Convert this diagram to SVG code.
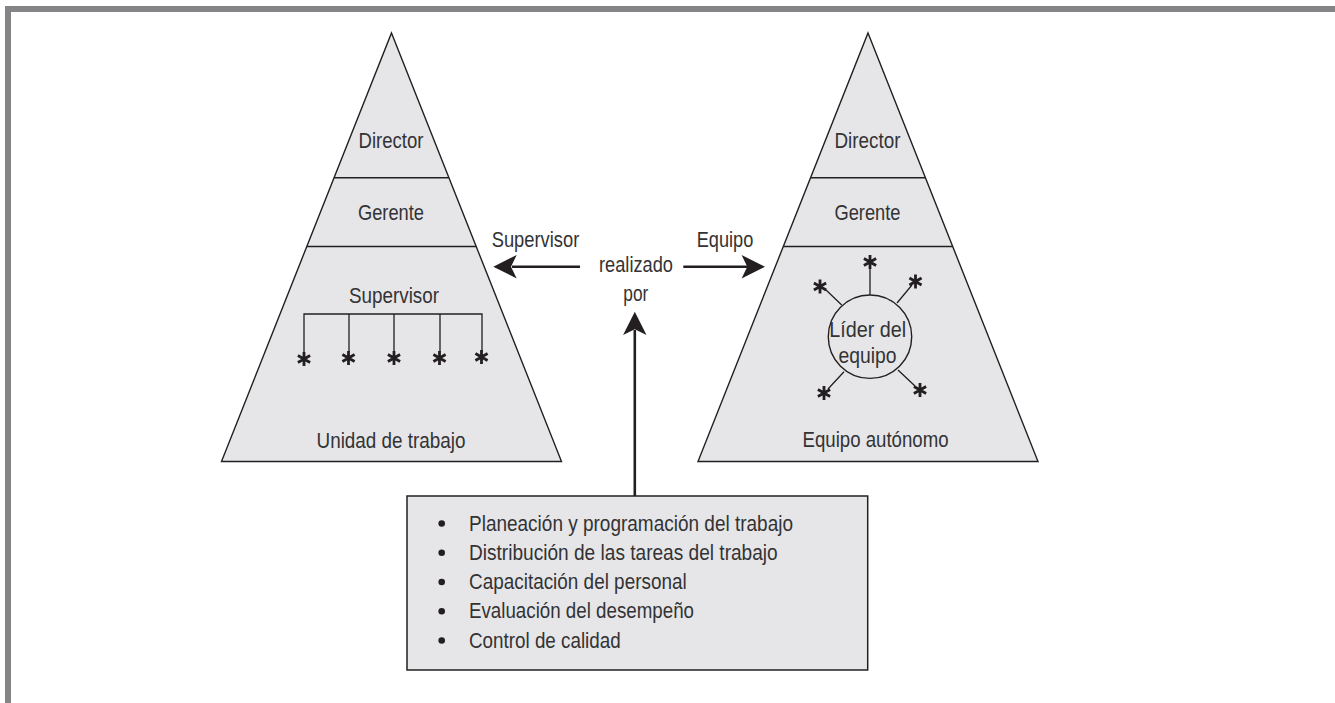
<svg xmlns="http://www.w3.org/2000/svg" xmlns:xlink="http://www.w3.org/1999/xlink" width="1335" height="703" viewBox="0 0 1335 703">
  <style>
    .shape { fill: #e6e6e8; stroke: #231f20; stroke-width: 1.4; }
    .div { fill: none; stroke: #231f20; stroke-width: 1.4; }
    .thin { fill: none; stroke: #231f20; stroke-width: 1.3; }
    .lbl { font-family: "Liberation Sans", Arial, sans-serif; font-size: 21.5px; fill: #333335; }
    .mid { text-anchor: middle; }
    .arrow { fill: none; stroke: #231f20; stroke-width: 2.6; }
    .head { fill: #231f20; stroke: none; }
    .ast { fill: none; stroke: #231f20; stroke-width: 2.8; }
  </style>
  <defs>
    <g id="ast" class="ast">
      <path d="M0,-7 V7 M-6.1,-3.5 L6.1,3.5 M-6.1,3.5 L6.1,-3.5"/>
    </g>
  </defs>
  <rect width="1335" height="703" fill="#ffffff"/>

  <g id="frame">
    <path d="M8,703 V9 H1335" fill="none" stroke="#858587" stroke-width="6"/>
  </g>

  <g id="left-pyramid">
    <polygon class="shape" points="391.5,33 561.5,461.5 221.5,461.5"/>
    <line class="div" x1="334.1" y1="177.7" x2="448.9" y2="177.7"/>
    <line class="div" x1="306.8" y1="246.5" x2="476.2" y2="246.5"/>
    <text class="lbl mid" x="391" y="147.5" textLength="65" lengthAdjust="spacingAndGlyphs">Director</text>
    <text class="lbl mid" x="391" y="220" textLength="66" lengthAdjust="spacingAndGlyphs">Gerente</text>
    <text class="lbl mid" x="394" y="303" textLength="90" lengthAdjust="spacingAndGlyphs">Supervisor</text>
    <path class="thin" d="M304,352 V314 H482 V352 M349,314 V352 M394,314 V352 M440,314 V352"/>
    <use xlink:href="#ast" x="304" y="359"/>
    <use xlink:href="#ast" x="348.5" y="358"/>
    <use xlink:href="#ast" x="394" y="358"/>
    <use xlink:href="#ast" x="439.5" y="358"/>
    <use xlink:href="#ast" x="481.5" y="357"/>
    <text class="lbl mid" x="391" y="447.5" textLength="149" lengthAdjust="spacingAndGlyphs">Unidad de trabajo</text>
  </g>

  <g id="right-pyramid">
    <polygon class="shape" points="868,33 1038,461.5 698,461.5"/>
    <line class="div" x1="810.6" y1="177.7" x2="925.4" y2="177.7"/>
    <line class="div" x1="783.3" y1="246.5" x2="952.7" y2="246.5"/>
    <text class="lbl mid" x="867.5" y="147.5" textLength="66" lengthAdjust="spacingAndGlyphs">Director</text>
    <text class="lbl mid" x="867.5" y="220" textLength="66" lengthAdjust="spacingAndGlyphs">Gerente</text>
    <path class="thin" d="M870,295 V268 M841.7,305 L825,289 M897,303 L912,285 M844,371.7 L828,389 M898,370 L915,386"/>
    <circle cx="870" cy="336.7" r="41.7" fill="#e6e6e8" stroke="#231f20" stroke-width="1.4"/>
    <text class="lbl mid" x="867.7" y="336.5" textLength="77" lengthAdjust="spacingAndGlyphs">Líder del</text>
    <text class="lbl mid" x="867.5" y="363.3" textLength="58" lengthAdjust="spacingAndGlyphs">equipo</text>
    <use xlink:href="#ast" x="870" y="262"/>
    <use xlink:href="#ast" x="820" y="286.5"/>
    <use xlink:href="#ast" x="915.5" y="281.5"/>
    <use xlink:href="#ast" x="824" y="393"/>
    <use xlink:href="#ast" x="920" y="390"/>
    <text class="lbl mid" x="875.5" y="446.7" textLength="146" lengthAdjust="spacingAndGlyphs">Equipo autónomo</text>
  </g>

  <g id="center-labels">
    <text class="lbl" x="491.7" y="246.7" textLength="87.6" lengthAdjust="spacingAndGlyphs">Supervisor</text>
    <text class="lbl" x="696.7" y="246.7" textLength="56.6" lengthAdjust="spacingAndGlyphs">Equipo</text>
    <text class="lbl mid" x="636" y="271.7" textLength="74" lengthAdjust="spacingAndGlyphs">realizado</text>
    <text class="lbl mid" x="635.8" y="301" textLength="25" lengthAdjust="spacingAndGlyphs">por</text>
  </g>

  <g id="connectors">
    <line class="arrow" x1="580" y1="266.7" x2="512" y2="266.7"/>
    <path class="head" d="M493.3,266.7 L516.7,255 L511,266.7 L516.7,278.4 Z"/>
    <line class="arrow" x1="683.3" y1="266.7" x2="748" y2="266.7"/>
    <path class="head" d="M765,266.7 L741.6,255 L747.3,266.7 L741.6,278.4 Z"/>
    <line class="arrow" x1="634.8" y1="496" x2="634.8" y2="330"/>
    <path class="head" d="M634.8,311.7 L623.1,335 L634.8,329.3 L646.5,335 Z"/>
  </g>

  <g id="task-box">
    <rect x="407" y="496" width="460.7" height="174" fill="#e6e6e8" stroke="#231f20" stroke-width="1.5"/>
    <g fill="#231f20">
      <circle cx="441.7" cy="523.5" r="3.3"/>
      <circle cx="441.7" cy="552.8" r="3.3"/>
      <circle cx="441.7" cy="582" r="3.3"/>
      <circle cx="441.7" cy="611.2" r="3.3"/>
      <circle cx="441.7" cy="640.5" r="3.3"/>
    </g>
    <text class="lbl" x="469" y="530.7" textLength="324" lengthAdjust="spacingAndGlyphs">Planeación y programación del trabajo</text>
    <text class="lbl" x="469" y="560" textLength="308.7" lengthAdjust="spacingAndGlyphs">Distribución de las tareas del trabajo</text>
    <text class="lbl" x="469" y="589" textLength="217.7" lengthAdjust="spacingAndGlyphs">Capacitación del personal</text>
    <text class="lbl" x="469" y="618.3" textLength="225" lengthAdjust="spacingAndGlyphs">Evaluación del desempeño</text>
    <text class="lbl" x="469" y="647.7" textLength="151.7" lengthAdjust="spacingAndGlyphs">Control de calidad</text>
  </g>
</svg>
